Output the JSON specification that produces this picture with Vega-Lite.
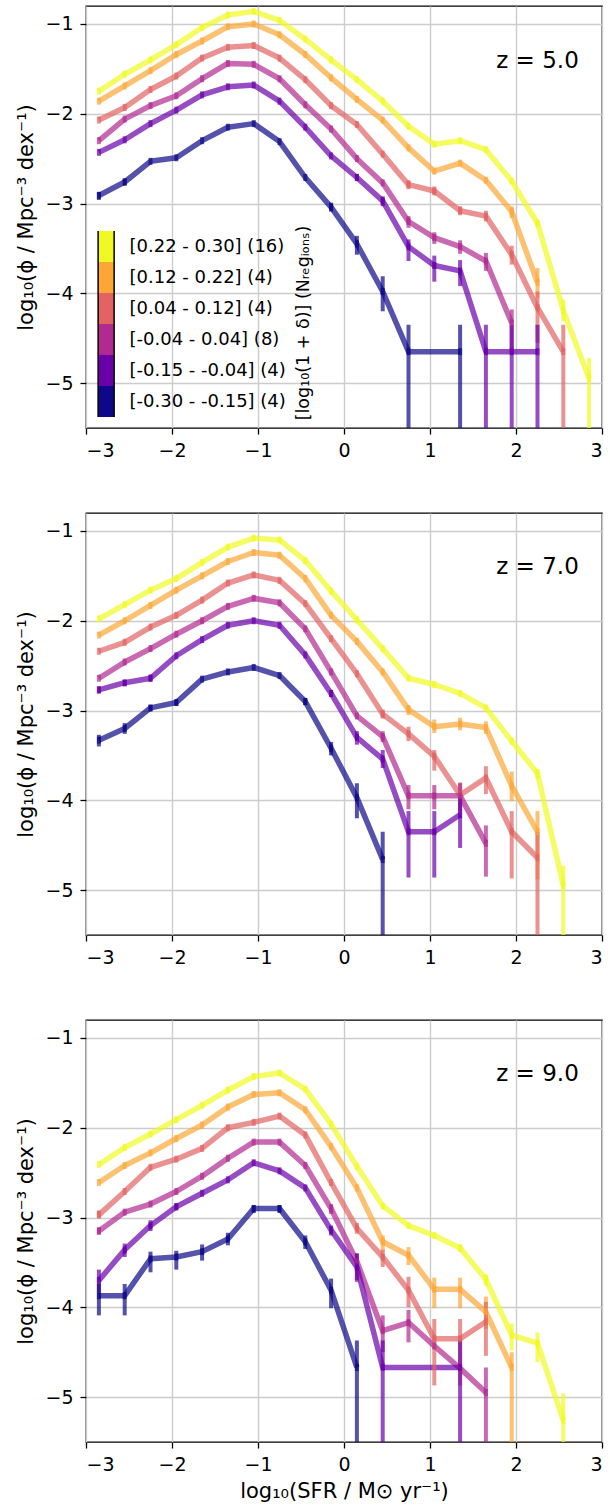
{
  "$schema": "https://vega.github.io/schema/vega-lite/v6.json",
  "background": "white",
  "padding": {"left": 15, "top": 5, "right": 5, "bottom": 5},
  "bounds": "flush",
  "spacing": 85,
  "config": {
    "view": {"stroke": "black", "strokeWidth": 1.3},
    "font": "DejaVu Sans",
    "axis": {"domain": false, "grid": true, "gridColor": "#cccccc", "gridWidth": 1.4, "tickColor": "black", "tickSize": 6, "tickWidth": 1.3, "labelFontSize": 19, "labelColor": "black", "labelPadding": 7, "titleFontSize": 21, "titleFontWeight": "normal", "titleColor": "black", "labelFont": "DejaVu Sans", "titleFont": "DejaVu Sans", "format": "d"}
  },
  "resolve": {"scale": {"color": "independent", "fill": "independent"}, "legend": {"color": "independent", "fill": "independent"}},
  "datasets": {
    "d": [
      {"p":5,"b":5,"x":-2.85,"y":-1.75},{"p":5,"b":5,"x":-2.55,"y":-1.56},{"p":5,"b":5,"x":-2.25,"y":-1.40},{"p":5,"b":5,"x":-1.95,"y":-1.23},{"p":5,"b":5,"x":-1.65,"y":-1.04},{"p":5,"b":5,"x":-1.35,"y":-0.90},{"p":5,"b":5,"x":-1.05,"y":-0.86},{"p":5,"b":5,"x":-0.75,"y":-0.96},{"p":5,"b":5,"x":-0.45,"y":-1.17},{"p":5,"b":5,"x":-0.15,"y":-1.40},{"p":5,"b":5,"x":0.15,"y":-1.62},{"p":5,"b":5,"x":0.45,"y":-1.86},{"p":5,"b":5,"x":0.75,"y":-2.14},{"p":5,"b":5,"x":1.05,"y":-2.34},{"p":5,"b":5,"x":1.35,"y":-2.30},{"p":5,"b":5,"x":1.65,"y":-2.40},{"p":5,"b":5,"x":1.95,"y":-2.75},{"p":5,"b":5,"x":2.25,"y":-3.22,"lo":-3.26,"hi":-3.18},{"p":5,"b":5,"x":2.55,"y":-4.19,"lo":-4.31,"hi":-4.07},{"p":5,"b":5,"x":2.85,"y":-4.95,"lo":-6,"hi":-4.72},
      {"p":5,"b":4,"x":-2.85,"y":-1.86},{"p":5,"b":4,"x":-2.55,"y":-1.69},{"p":5,"b":4,"x":-2.25,"y":-1.52},{"p":5,"b":4,"x":-1.95,"y":-1.34},{"p":5,"b":4,"x":-1.65,"y":-1.19},{"p":5,"b":4,"x":-1.35,"y":-1.03},{"p":5,"b":4,"x":-1.05,"y":-1.00},{"p":5,"b":4,"x":-0.75,"y":-1.12},{"p":5,"b":4,"x":-0.45,"y":-1.34},{"p":5,"b":4,"x":-0.15,"y":-1.60},{"p":5,"b":4,"x":0.15,"y":-1.84},{"p":5,"b":4,"x":0.45,"y":-2.07},{"p":5,"b":4,"x":0.75,"y":-2.38},{"p":5,"b":4,"x":1.05,"y":-2.64},{"p":5,"b":4,"x":1.35,"y":-2.55},{"p":5,"b":4,"x":1.65,"y":-2.74},{"p":5,"b":4,"x":1.95,"y":-3.09,"lo":-3.16,"hi":-3.03},{"p":5,"b":4,"x":2.25,"y":-3.88,"lo":-4.05,"hi":-3.72},
      {"p":5,"b":3,"x":-2.85,"y":-2.07},{"p":5,"b":3,"x":-2.55,"y":-1.93},{"p":5,"b":3,"x":-2.25,"y":-1.73},{"p":5,"b":3,"x":-1.95,"y":-1.58},{"p":5,"b":3,"x":-1.65,"y":-1.38},{"p":5,"b":3,"x":-1.35,"y":-1.26},{"p":5,"b":3,"x":-1.05,"y":-1.24},{"p":5,"b":3,"x":-0.75,"y":-1.38},{"p":5,"b":3,"x":-0.45,"y":-1.62},{"p":5,"b":3,"x":-0.15,"y":-1.91},{"p":5,"b":3,"x":0.15,"y":-2.12},{"p":5,"b":3,"x":0.45,"y":-2.45},{"p":5,"b":3,"x":0.75,"y":-2.79,"lo":-2.84,"hi":-2.74},{"p":5,"b":3,"x":1.05,"y":-2.86,"lo":-2.91,"hi":-2.81},{"p":5,"b":3,"x":1.35,"y":-3.08,"lo":-3.13,"hi":-3.03},{"p":5,"b":3,"x":1.65,"y":-3.14,"lo":-3.20,"hi":-3.08},{"p":5,"b":3,"x":1.95,"y":-3.57,"lo":-3.68,"hi":-3.47},{"p":5,"b":3,"x":2.25,"y":-4.16,"lo":-4.55,"hi":-3.98},{"p":5,"b":3,"x":2.55,"y":-4.65,"lo":-6,"hi":-4.35},
      {"p":5,"b":2,"x":-2.85,"y":-2.30},{"p":5,"b":2,"x":-2.55,"y":-2.06},{"p":5,"b":2,"x":-2.25,"y":-1.91},{"p":5,"b":2,"x":-1.95,"y":-1.80},{"p":5,"b":2,"x":-1.65,"y":-1.61},{"p":5,"b":2,"x":-1.35,"y":-1.44},{"p":5,"b":2,"x":-1.05,"y":-1.45},{"p":5,"b":2,"x":-0.75,"y":-1.61},{"p":5,"b":2,"x":-0.45,"y":-1.90},{"p":5,"b":2,"x":-0.15,"y":-2.17},{"p":5,"b":2,"x":0.15,"y":-2.50},{"p":5,"b":2,"x":0.45,"y":-2.77},{"p":5,"b":2,"x":0.75,"y":-3.20,"lo":-3.27,"hi":-3.14},{"p":5,"b":2,"x":1.05,"y":-3.38,"lo":-3.45,"hi":-3.32},{"p":5,"b":2,"x":1.35,"y":-3.48,"lo":-3.56,"hi":-3.41},{"p":5,"b":2,"x":1.65,"y":-3.64,"lo":-3.75,"hi":-3.55},{"p":5,"b":2,"x":1.95,"y":-4.33,"lo":-4.65,"hi":-4.18},
      {"p":5,"b":1,"x":-2.85,"y":-2.43},{"p":5,"b":1,"x":-2.55,"y":-2.29},{"p":5,"b":1,"x":-2.25,"y":-2.11},{"p":5,"b":1,"x":-1.95,"y":-1.96},{"p":5,"b":1,"x":-1.65,"y":-1.79},{"p":5,"b":1,"x":-1.35,"y":-1.70},{"p":5,"b":1,"x":-1.05,"y":-1.68},{"p":5,"b":1,"x":-0.75,"y":-1.86},{"p":5,"b":1,"x":-0.45,"y":-2.15},{"p":5,"b":1,"x":-0.15,"y":-2.47},{"p":5,"b":1,"x":0.15,"y":-2.71,"lo":-2.75,"hi":-2.67},{"p":5,"b":1,"x":0.45,"y":-2.97,"lo":-3.03,"hi":-2.92},{"p":5,"b":1,"x":0.75,"y":-3.48,"lo":-3.64,"hi":-3.40},{"p":5,"b":1,"x":1.05,"y":-3.69,"lo":-3.87,"hi":-3.58},{"p":5,"b":1,"x":1.35,"y":-3.75,"lo":-3.92,"hi":-3.63},{"p":5,"b":1,"x":1.65,"y":-4.65,"lo":-6,"hi":-4.35},{"p":5,"b":1,"x":1.95,"y":-4.65,"lo":-6,"hi":-4.35},{"p":5,"b":1,"x":2.25,"y":-4.65,"lo":-6,"hi":-4.35},
      {"p":5,"b":0,"x":-2.85,"y":-2.91,"lo":-2.96,"hi":-2.87},{"p":5,"b":0,"x":-2.55,"y":-2.76,"lo":-2.80,"hi":-2.72},{"p":5,"b":0,"x":-2.25,"y":-2.53},{"p":5,"b":0,"x":-1.95,"y":-2.49},{"p":5,"b":0,"x":-1.65,"y":-2.30},{"p":5,"b":0,"x":-1.35,"y":-2.15},{"p":5,"b":0,"x":-1.05,"y":-2.11},{"p":5,"b":0,"x":-0.75,"y":-2.31},{"p":5,"b":0,"x":-0.45,"y":-2.71},{"p":5,"b":0,"x":-0.15,"y":-3.04,"lo":-3.09,"hi":-2.99},{"p":5,"b":0,"x":0.15,"y":-3.45,"lo":-3.57,"hi":-3.36},{"p":5,"b":0,"x":0.45,"y":-3.98,"lo":-4.20,"hi":-3.81},{"p":5,"b":0,"x":0.75,"y":-4.65,"lo":-6,"hi":-4.35},{"p":5,"b":0,"x":1.35,"y":-4.65,"lo":-6,"hi":-4.35},

      {"p":7,"b":5,"x":-2.85,"y":-1.98},{"p":7,"b":5,"x":-2.55,"y":-1.82},{"p":7,"b":5,"x":-2.25,"y":-1.66},{"p":7,"b":5,"x":-1.95,"y":-1.53},{"p":7,"b":5,"x":-1.65,"y":-1.35},{"p":7,"b":5,"x":-1.35,"y":-1.18},{"p":7,"b":5,"x":-1.05,"y":-1.08},{"p":7,"b":5,"x":-0.75,"y":-1.10},{"p":7,"b":5,"x":-0.45,"y":-1.33},{"p":7,"b":5,"x":-0.15,"y":-1.67},{"p":7,"b":5,"x":0.15,"y":-1.99},{"p":7,"b":5,"x":0.45,"y":-2.31},{"p":7,"b":5,"x":0.75,"y":-2.64},{"p":7,"b":5,"x":1.05,"y":-2.71},{"p":7,"b":5,"x":1.35,"y":-2.81},{"p":7,"b":5,"x":1.65,"y":-2.97},{"p":7,"b":5,"x":1.95,"y":-3.34},{"p":7,"b":5,"x":2.25,"y":-3.70,"lo":-3.76,"hi":-3.65},{"p":7,"b":5,"x":2.55,"y":-4.95,"lo":-6,"hi":-4.73},
      {"p":7,"b":4,"x":-2.85,"y":-2.16},{"p":7,"b":4,"x":-2.55,"y":-2.00},{"p":7,"b":4,"x":-2.25,"y":-1.83},{"p":7,"b":4,"x":-1.95,"y":-1.66},{"p":7,"b":4,"x":-1.65,"y":-1.50},{"p":7,"b":4,"x":-1.35,"y":-1.34},{"p":7,"b":4,"x":-1.05,"y":-1.24},{"p":7,"b":4,"x":-0.75,"y":-1.27},{"p":7,"b":4,"x":-0.45,"y":-1.53},{"p":7,"b":4,"x":-0.15,"y":-1.94},{"p":7,"b":4,"x":0.15,"y":-2.23},{"p":7,"b":4,"x":0.45,"y":-2.57},{"p":7,"b":4,"x":0.75,"y":-2.99,"lo":-3.05,"hi":-2.94},{"p":7,"b":4,"x":1.05,"y":-3.18,"lo":-3.25,"hi":-3.10},{"p":7,"b":4,"x":1.35,"y":-3.15,"lo":-3.22,"hi":-3.08},{"p":7,"b":4,"x":1.65,"y":-3.19,"lo":-3.26,"hi":-3.12},{"p":7,"b":4,"x":1.95,"y":-3.84,"lo":-4.01,"hi":-3.68},{"p":7,"b":4,"x":2.25,"y":-4.35,"lo":-4.88,"hi":-4.12},
      {"p":7,"b":3,"x":-2.85,"y":-2.34},{"p":7,"b":3,"x":-2.55,"y":-2.24},{"p":7,"b":3,"x":-2.25,"y":-2.07},{"p":7,"b":3,"x":-1.95,"y":-1.94},{"p":7,"b":3,"x":-1.65,"y":-1.77},{"p":7,"b":3,"x":-1.35,"y":-1.58},{"p":7,"b":3,"x":-1.05,"y":-1.49},{"p":7,"b":3,"x":-0.75,"y":-1.55},{"p":7,"b":3,"x":-0.45,"y":-1.81},{"p":7,"b":3,"x":-0.15,"y":-2.20},{"p":7,"b":3,"x":0.15,"y":-2.59},{"p":7,"b":3,"x":0.45,"y":-3.04,"lo":-3.09,"hi":-2.99},{"p":7,"b":3,"x":0.75,"y":-3.26,"lo":-3.34,"hi":-3.18},{"p":7,"b":3,"x":1.05,"y":-3.51,"lo":-3.67,"hi":-3.44},{"p":7,"b":3,"x":1.35,"y":-3.94,"lo":-4.12,"hi":-3.80},{"p":7,"b":3,"x":1.65,"y":-3.75,"lo":-3.93,"hi":-3.62},{"p":7,"b":3,"x":1.95,"y":-4.35,"lo":-4.87,"hi":-4.12},{"p":7,"b":3,"x":2.25,"y":-4.64,"lo":-6,"hi":-4.35},
      {"p":7,"b":2,"x":-2.85,"y":-2.64},{"p":7,"b":2,"x":-2.55,"y":-2.46},{"p":7,"b":2,"x":-2.25,"y":-2.31},{"p":7,"b":2,"x":-1.95,"y":-2.15},{"p":7,"b":2,"x":-1.65,"y":-2.00},{"p":7,"b":2,"x":-1.35,"y":-1.84},{"p":7,"b":2,"x":-1.05,"y":-1.75},{"p":7,"b":2,"x":-0.75,"y":-1.80},{"p":7,"b":2,"x":-0.45,"y":-2.09},{"p":7,"b":2,"x":-0.15,"y":-2.57},{"p":7,"b":2,"x":0.15,"y":-3.06},{"p":7,"b":2,"x":0.45,"y":-3.29,"lo":-3.35,"hi":-3.23},{"p":7,"b":2,"x":0.75,"y":-3.95,"lo":-4.10,"hi":-3.83},{"p":7,"b":2,"x":1.05,"y":-3.95,"lo":-4.10,"hi":-3.83},{"p":7,"b":2,"x":1.35,"y":-3.95,"lo":-4.12,"hi":-3.81},{"p":7,"b":2,"x":1.65,"y":-4.48,"lo":-4.85,"hi":-4.28},
      {"p":7,"b":1,"x":-2.85,"y":-2.77,"lo":-2.81,"hi":-2.73},{"p":7,"b":1,"x":-2.55,"y":-2.69,"lo":-2.73,"hi":-2.66},{"p":7,"b":1,"x":-2.25,"y":-2.64,"lo":-2.68,"hi":-2.60},{"p":7,"b":1,"x":-1.95,"y":-2.39},{"p":7,"b":1,"x":-1.65,"y":-2.21},{"p":7,"b":1,"x":-1.35,"y":-2.05},{"p":7,"b":1,"x":-1.05,"y":-2.00},{"p":7,"b":1,"x":-0.75,"y":-2.05},{"p":7,"b":1,"x":-0.45,"y":-2.38},{"p":7,"b":1,"x":-0.15,"y":-2.81,"lo":-2.85,"hi":-2.77},{"p":7,"b":1,"x":0.15,"y":-3.30,"lo":-3.38,"hi":-3.23},{"p":7,"b":1,"x":0.45,"y":-3.54,"lo":-3.64,"hi":-3.44},{"p":7,"b":1,"x":0.75,"y":-4.35,"lo":-4.86,"hi":-4.12},{"p":7,"b":1,"x":1.05,"y":-4.35,"lo":-4.86,"hi":-4.12},{"p":7,"b":1,"x":1.35,"y":-4.16,"lo":-4.53,"hi":-3.94},
      {"p":7,"b":0,"x":-2.85,"y":-3.33,"lo":-3.40,"hi":-3.27},{"p":7,"b":0,"x":-2.55,"y":-3.20,"lo":-3.26,"hi":-3.14},{"p":7,"b":0,"x":-2.25,"y":-2.97,"lo":-3.01,"hi":-2.94},{"p":7,"b":0,"x":-1.95,"y":-2.91,"lo":-2.95,"hi":-2.88},{"p":7,"b":0,"x":-1.65,"y":-2.65},{"p":7,"b":0,"x":-1.35,"y":-2.57},{"p":7,"b":0,"x":-1.05,"y":-2.52},{"p":7,"b":0,"x":-0.75,"y":-2.61},{"p":7,"b":0,"x":-0.45,"y":-2.90,"lo":-2.94,"hi":-2.86},{"p":7,"b":0,"x":-0.15,"y":-3.42,"lo":-3.50,"hi":-3.35},{"p":7,"b":0,"x":0.15,"y":-3.97,"lo":-4.20,"hi":-3.81},{"p":7,"b":0,"x":0.45,"y":-4.66,"lo":-6,"hi":-4.35},

      {"p":9,"b":5,"x":-2.85,"y":-2.41},{"p":9,"b":5,"x":-2.55,"y":-2.22},{"p":9,"b":5,"x":-2.25,"y":-2.07},{"p":9,"b":5,"x":-1.95,"y":-1.91},{"p":9,"b":5,"x":-1.65,"y":-1.75},{"p":9,"b":5,"x":-1.35,"y":-1.58},{"p":9,"b":5,"x":-1.05,"y":-1.43},{"p":9,"b":5,"x":-0.75,"y":-1.39},{"p":9,"b":5,"x":-0.45,"y":-1.57},{"p":9,"b":5,"x":-0.15,"y":-1.96},{"p":9,"b":5,"x":0.15,"y":-2.43},{"p":9,"b":5,"x":0.45,"y":-2.87},{"p":9,"b":5,"x":0.75,"y":-3.09},{"p":9,"b":5,"x":1.05,"y":-3.20},{"p":9,"b":5,"x":1.35,"y":-3.34,"lo":-3.38,"hi":-3.30},{"p":9,"b":5,"x":1.65,"y":-3.69,"lo":-3.76,"hi":-3.63},{"p":9,"b":5,"x":1.95,"y":-4.31,"lo":-4.48,"hi":-4.18},{"p":9,"b":5,"x":2.25,"y":-4.40,"lo":-4.61,"hi":-4.28},{"p":9,"b":5,"x":2.55,"y":-5.26,"lo":-6,"hi":-4.96},
      {"p":9,"b":4,"x":-2.85,"y":-2.61},{"p":9,"b":4,"x":-2.55,"y":-2.42},{"p":9,"b":4,"x":-2.25,"y":-2.28},{"p":9,"b":4,"x":-1.95,"y":-2.12},{"p":9,"b":4,"x":-1.65,"y":-1.97},{"p":9,"b":4,"x":-1.35,"y":-1.77},{"p":9,"b":4,"x":-1.05,"y":-1.63},{"p":9,"b":4,"x":-0.75,"y":-1.61},{"p":9,"b":4,"x":-0.45,"y":-1.80},{"p":9,"b":4,"x":-0.15,"y":-2.21},{"p":9,"b":4,"x":0.15,"y":-2.67},{"p":9,"b":4,"x":0.45,"y":-3.27,"lo":-3.38,"hi":-3.20},{"p":9,"b":4,"x":0.75,"y":-3.42,"lo":-3.53,"hi":-3.33},{"p":9,"b":4,"x":1.05,"y":-3.80,"lo":-4.01,"hi":-3.67},{"p":9,"b":4,"x":1.35,"y":-3.80,"lo":-4.01,"hi":-3.67},{"p":9,"b":4,"x":1.65,"y":-4.05,"lo":-4.24,"hi":-3.88},{"p":9,"b":4,"x":1.95,"y":-4.67,"lo":-6,"hi":-4.50},
      {"p":9,"b":3,"x":-2.85,"y":-2.97,"lo":-3.01,"hi":-2.92},{"p":9,"b":3,"x":-2.55,"y":-2.71},{"p":9,"b":3,"x":-2.25,"y":-2.44},{"p":9,"b":3,"x":-1.95,"y":-2.35},{"p":9,"b":3,"x":-1.65,"y":-2.23},{"p":9,"b":3,"x":-1.35,"y":-2.00},{"p":9,"b":3,"x":-1.05,"y":-1.94},{"p":9,"b":3,"x":-0.75,"y":-1.87},{"p":9,"b":3,"x":-0.45,"y":-2.08},{"p":9,"b":3,"x":-0.15,"y":-2.61},{"p":9,"b":3,"x":0.15,"y":-3.12,"lo":-3.18,"hi":-3.06},{"p":9,"b":3,"x":0.45,"y":-3.44,"lo":-3.55,"hi":-3.36},{"p":9,"b":3,"x":0.75,"y":-3.81,"lo":-4.00,"hi":-3.66},{"p":9,"b":3,"x":1.05,"y":-4.35,"lo":-4.87,"hi":-4.13},{"p":9,"b":3,"x":1.35,"y":-4.35,"lo":-4.87,"hi":-4.13},{"p":9,"b":3,"x":1.65,"y":-4.16,"lo":-4.54,"hi":-3.94},
      {"p":9,"b":2,"x":-2.85,"y":-3.15,"lo":-3.19,"hi":-3.11},{"p":9,"b":2,"x":-2.55,"y":-2.94},{"p":9,"b":2,"x":-2.25,"y":-2.85},{"p":9,"b":2,"x":-1.95,"y":-2.71},{"p":9,"b":2,"x":-1.65,"y":-2.54},{"p":9,"b":2,"x":-1.35,"y":-2.34},{"p":9,"b":2,"x":-1.05,"y":-2.16},{"p":9,"b":2,"x":-0.75,"y":-2.16},{"p":9,"b":2,"x":-0.45,"y":-2.42},{"p":9,"b":2,"x":-0.15,"y":-2.90,"lo":-2.96,"hi":-2.85},{"p":9,"b":2,"x":0.15,"y":-3.49,"lo":-3.72,"hi":-3.40},{"p":9,"b":2,"x":0.45,"y":-4.26,"lo":-4.50,"hi":-4.09},{"p":9,"b":2,"x":0.75,"y":-4.17,"lo":-4.39,"hi":-4.03},{"p":9,"b":2,"x":1.05,"y":-4.43},{"p":9,"b":2,"x":1.35,"y":-4.68},{"p":9,"b":2,"x":1.65,"y":-4.95,"lo":-6,"hi":-4.67},
      {"p":9,"b":1,"x":-2.85,"y":-3.70,"lo":-3.83,"hi":-3.58},{"p":9,"b":1,"x":-2.55,"y":-3.36,"lo":-3.44,"hi":-3.29},{"p":9,"b":1,"x":-2.25,"y":-3.09,"lo":-3.15,"hi":-3.03},{"p":9,"b":1,"x":-1.95,"y":-2.88,"lo":-2.92,"hi":-2.84},{"p":9,"b":1,"x":-1.65,"y":-2.73},{"p":9,"b":1,"x":-1.35,"y":-2.58},{"p":9,"b":1,"x":-1.05,"y":-2.39},{"p":9,"b":1,"x":-0.75,"y":-2.48},{"p":9,"b":1,"x":-0.45,"y":-2.67},{"p":9,"b":1,"x":-0.15,"y":-3.14,"lo":-3.20,"hi":-3.09},{"p":9,"b":1,"x":0.15,"y":-3.55,"lo":-3.70,"hi":-3.40},{"p":9,"b":1,"x":0.45,"y":-4.67,"lo":-6,"hi":-4.37},{"p":9,"b":1,"x":1.35,"y":-4.67,"lo":-6,"hi":-4.37},
      {"p":9,"b":0,"x":-2.85,"y":-3.87,"lo":-4.09,"hi":-3.74},{"p":9,"b":0,"x":-2.55,"y":-3.87,"lo":-4.09,"hi":-3.74},{"p":9,"b":0,"x":-2.25,"y":-3.46,"lo":-3.61,"hi":-3.38},{"p":9,"b":0,"x":-1.95,"y":-3.44,"lo":-3.58,"hi":-3.37},{"p":9,"b":0,"x":-1.65,"y":-3.38,"lo":-3.48,"hi":-3.30},{"p":9,"b":0,"x":-1.35,"y":-3.24,"lo":-3.31,"hi":-3.17},{"p":9,"b":0,"x":-1.05,"y":-2.90,"lo":-2.95,"hi":-2.86},{"p":9,"b":0,"x":-0.75,"y":-2.90,"lo":-2.95,"hi":-2.86},{"p":9,"b":0,"x":-0.45,"y":-3.27,"lo":-3.35,"hi":-3.20},{"p":9,"b":0,"x":-0.15,"y":-3.81,"lo":-4.01,"hi":-3.68},{"p":9,"b":0,"x":0.15,"y":-4.67,"lo":-6,"hi":-4.37}
    ]
  },
  "vconcat": [
    {
      "width": 516, "height": 422,
      "layer": [
        {
          "data": {"name": "d"},
          "transform": [{"filter": "datum.p == 5"}],
          "mark": {"type": "line", "strokeWidth": 5.5, "opacity": 0.7, "strokeJoin": "round", "clip": true},
          "encoding": {
            "x": {"field": "x", "type": "quantitative", "scale": {"domain": [-3, 3], "nice": false}, "axis": {"values": [-3, -2, -1, 0, 1, 2, 3]}, "title": null},
            "y": {"field": "y", "type": "quantitative", "scale": {"domain": [-5.5, -0.8], "nice": false, "zero": false}, "axis": {"values": [-5, -4, -3, -2, -1], "titlePadding": 8}, "title": "log₁₀(ϕ / Mpc⁻³ dex⁻¹)"},
            "color": {"field": "b", "type": "nominal", "scale": {"domain": [0, 1, 2, 3, 4, 5], "range": ["#0d0887", "#6a00a8", "#b12a90", "#e16462", "#fca636", "#f0f921"]}, "legend": null}
          }
        },
        {
          "data": {"name": "d"},
          "transform": [{"filter": "datum.p == 5 && isValid(datum.lo)"}],
          "mark": {"type": "rule", "strokeWidth": 4, "opacity": 0.7, "clip": true},
          "encoding": {
            "x": {"field": "x", "type": "quantitative", "scale": {"domain": [-3, 3], "nice": false}, "title": null},
            "y": {"field": "lo", "type": "quantitative", "scale": {"domain": [-5.5, -0.8], "nice": false, "zero": false}, "title": "log₁₀(ϕ / Mpc⁻³ dex⁻¹)"},
            "y2": {"field": "hi"},
            "color": {"field": "b", "type": "nominal", "scale": {"domain": [0, 1, 2, 3, 4, 5], "range": ["#0d0887", "#6a00a8", "#b12a90", "#e16462", "#fca636", "#f0f921"]}, "legend": null}
          }
        },
        {
          "data": {"name": "d"},
          "transform": [{"filter": "datum.p == 5"}],
          "mark": {"type": "tick", "orient": "vertical", "size": 7, "thickness": 4, "opacity": 0.7, "clip": true},
          "encoding": {
            "x": {"field": "x", "type": "quantitative", "scale": {"domain": [-3, 3], "nice": false}, "title": null},
            "y": {"field": "y", "type": "quantitative", "scale": {"domain": [-5.5, -0.8], "nice": false, "zero": false}, "title": "log₁₀(ϕ / Mpc⁻³ dex⁻¹)"},
            "fill": {"field": "b", "type": "nominal", "scale": {"domain": [5, 4, 3, 2, 1, 0], "range": ["#f0f921", "#fca636", "#e16462", "#b12a90", "#6a00a8", "#0d0887"]},
              "legend": {"orient": "bottom-left", "offset": 11, "title": null, "padding": 0, "clipHeight": 31, "symbolType": "M-1,-1.4H0.196V1.4H-1Z", "symbolSize": 716, "symbolOpacity": 1, "symbolStrokeColor": "black", "symbolStrokeWidth": 1.5, "rowPadding": 0, "labelFontSize": 18, "labelColor": "black", "labelOffset": 3.5, "labelExpr": "['[-0.30 - -0.15] (4)','[-0.15 - -0.04] (4)','[-0.04 - 0.04] (8)','[0.04 - 0.12] (4)','[0.12 - 0.22] (4)','[0.22 - 0.30] (16)'][datum.value]"}}
          }
        },
        {
          "data": {"values": [{"t": "z = 5.0"}]},
          "mark": {"type": "text", "fontSize": 23, "color": "black", "align": "center", "baseline": "middle"},
          "encoding": {
            "x": {"datum": 2.25, "type": "quantitative", "scale": {"domain": [-3, 3], "nice": false}},
            "y": {"datum": -1.41, "type": "quantitative", "scale": {"domain": [-5.5, -0.8], "nice": false, "zero": false}},
            "text": {"field": "t"}
          }
        },
        {
          "data": {"values": [{"t": "[log₁₀(1 + δ)] (Nᵣₑgᵢₒₙₛ)"}]},
          "mark": {"type": "text", "fontSize": 17.5, "color": "black", "align": "center", "baseline": "middle", "angle": 270},
          "encoding": {
            "x": {"datum": -0.47, "type": "quantitative", "scale": {"domain": [-3, 3], "nice": false}},
            "y": {"datum": -4.33, "type": "quantitative", "scale": {"domain": [-5.5, -0.8], "nice": false, "zero": false}},
            "text": {"field": "t"}
          }
        }
      ]
    },
    {
      "width": 516, "height": 422,
      "layer": [
        {
          "data": {"name": "d"},
          "transform": [{"filter": "datum.p == 7"}],
          "mark": {"type": "line", "strokeWidth": 5.5, "opacity": 0.7, "strokeJoin": "round", "clip": true},
          "encoding": {
            "x": {"field": "x", "type": "quantitative", "scale": {"domain": [-3, 3], "nice": false}, "axis": {"values": [-3, -2, -1, 0, 1, 2, 3]}, "title": null},
            "y": {"field": "y", "type": "quantitative", "scale": {"domain": [-5.5, -0.8], "nice": false, "zero": false}, "axis": {"values": [-5, -4, -3, -2, -1], "titlePadding": 8}, "title": "log₁₀(ϕ / Mpc⁻³ dex⁻¹)"},
            "color": {"field": "b", "type": "nominal", "scale": {"domain": [0, 1, 2, 3, 4, 5], "range": ["#0d0887", "#6a00a8", "#b12a90", "#e16462", "#fca636", "#f0f921"]}, "legend": null}
          }
        },
        {
          "data": {"name": "d"},
          "transform": [{"filter": "datum.p == 7 && isValid(datum.lo)"}],
          "mark": {"type": "rule", "strokeWidth": 4, "opacity": 0.7, "clip": true},
          "encoding": {
            "x": {"field": "x", "type": "quantitative", "scale": {"domain": [-3, 3], "nice": false}, "title": null},
            "y": {"field": "lo", "type": "quantitative", "scale": {"domain": [-5.5, -0.8], "nice": false, "zero": false}, "title": "log₁₀(ϕ / Mpc⁻³ dex⁻¹)"},
            "y2": {"field": "hi"},
            "color": {"field": "b", "type": "nominal", "scale": {"domain": [0, 1, 2, 3, 4, 5], "range": ["#0d0887", "#6a00a8", "#b12a90", "#e16462", "#fca636", "#f0f921"]}, "legend": null}
          }
        },
        {
          "data": {"name": "d"},
          "transform": [{"filter": "datum.p == 7"}],
          "mark": {"type": "tick", "orient": "vertical", "size": 7, "thickness": 4, "opacity": 0.7, "clip": true},
          "encoding": {
            "x": {"field": "x", "type": "quantitative", "scale": {"domain": [-3, 3], "nice": false}, "title": null},
            "y": {"field": "y", "type": "quantitative", "scale": {"domain": [-5.5, -0.8], "nice": false, "zero": false}, "title": "log₁₀(ϕ / Mpc⁻³ dex⁻¹)"},
            "fill": {"field": "b", "type": "nominal", "scale": {"domain": [5, 4, 3, 2, 1, 0], "range": ["#f0f921", "#fca636", "#e16462", "#b12a90", "#6a00a8", "#0d0887"]}, "legend": null}
          }
        },
        {
          "data": {"values": [{"t": "z = 7.0"}]},
          "mark": {"type": "text", "fontSize": 23, "color": "black", "align": "center", "baseline": "middle"},
          "encoding": {
            "x": {"datum": 2.25, "type": "quantitative", "scale": {"domain": [-3, 3], "nice": false}},
            "y": {"datum": -1.40, "type": "quantitative", "scale": {"domain": [-5.5, -0.8], "nice": false, "zero": false}},
            "text": {"field": "t"}
          }
        }
      ]
    },
    {
      "width": 516, "height": 422,
      "layer": [
        {
          "data": {"name": "d"},
          "transform": [{"filter": "datum.p == 9"}],
          "mark": {"type": "line", "strokeWidth": 5.5, "opacity": 0.7, "strokeJoin": "round", "clip": true},
          "encoding": {
            "x": {"field": "x", "type": "quantitative", "scale": {"domain": [-3, 3], "nice": false}, "axis": {"values": [-3, -2, -1, 0, 1, 2, 3], "titlePadding": 6}, "title": "log₁₀(SFR / M⊙ yr⁻¹)"},
            "y": {"field": "y", "type": "quantitative", "scale": {"domain": [-5.5, -0.8], "nice": false, "zero": false}, "axis": {"values": [-5, -4, -3, -2, -1], "titlePadding": 8}, "title": "log₁₀(ϕ / Mpc⁻³ dex⁻¹)"},
            "color": {"field": "b", "type": "nominal", "scale": {"domain": [0, 1, 2, 3, 4, 5], "range": ["#0d0887", "#6a00a8", "#b12a90", "#e16462", "#fca636", "#f0f921"]}, "legend": null}
          }
        },
        {
          "data": {"name": "d"},
          "transform": [{"filter": "datum.p == 9 && isValid(datum.lo)"}],
          "mark": {"type": "rule", "strokeWidth": 4, "opacity": 0.7, "clip": true},
          "encoding": {
            "x": {"field": "x", "type": "quantitative", "scale": {"domain": [-3, 3], "nice": false}, "title": "log₁₀(SFR / M⊙ yr⁻¹)"},
            "y": {"field": "lo", "type": "quantitative", "scale": {"domain": [-5.5, -0.8], "nice": false, "zero": false}, "title": "log₁₀(ϕ / Mpc⁻³ dex⁻¹)"},
            "y2": {"field": "hi"},
            "color": {"field": "b", "type": "nominal", "scale": {"domain": [0, 1, 2, 3, 4, 5], "range": ["#0d0887", "#6a00a8", "#b12a90", "#e16462", "#fca636", "#f0f921"]}, "legend": null}
          }
        },
        {
          "data": {"name": "d"},
          "transform": [{"filter": "datum.p == 9"}],
          "mark": {"type": "tick", "orient": "vertical", "size": 7, "thickness": 4, "opacity": 0.7, "clip": true},
          "encoding": {
            "x": {"field": "x", "type": "quantitative", "scale": {"domain": [-3, 3], "nice": false}, "title": "log₁₀(SFR / M⊙ yr⁻¹)"},
            "y": {"field": "y", "type": "quantitative", "scale": {"domain": [-5.5, -0.8], "nice": false, "zero": false}, "title": "log₁₀(ϕ / Mpc⁻³ dex⁻¹)"},
            "fill": {"field": "b", "type": "nominal", "scale": {"domain": [5, 4, 3, 2, 1, 0], "range": ["#f0f921", "#fca636", "#e16462", "#b12a90", "#6a00a8", "#0d0887"]}, "legend": null}
          }
        },
        {
          "data": {"values": [{"t": "z = 9.0"}]},
          "mark": {"type": "text", "fontSize": 23, "color": "black", "align": "center", "baseline": "middle"},
          "encoding": {
            "x": {"datum": 2.25, "type": "quantitative", "scale": {"domain": [-3, 3], "nice": false}},
            "y": {"datum": -1.40, "type": "quantitative", "scale": {"domain": [-5.5, -0.8], "nice": false, "zero": false}},
            "text": {"field": "t"}
          }
        }
      ]
    }
  ]
}
